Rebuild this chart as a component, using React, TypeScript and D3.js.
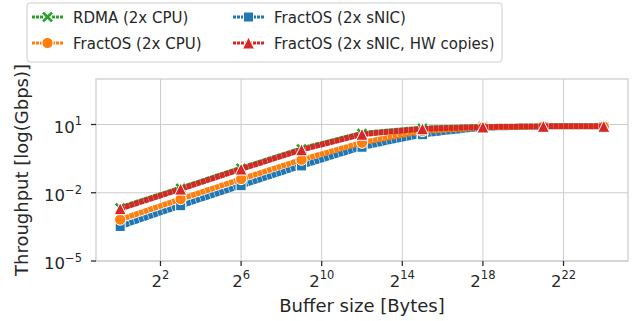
import React from "react";
import * as d3 from "d3";

// buffer sizes in bytes (2^0 .. 2^24)
const sizes = [1, 8, 64, 512, 4096, 32768, 262144, 2097152, 16777216];

// throughput in Gbps
const rdmaCpu = [0.00214, 0.0155, 0.117, 0.83, 3.98, 6.76, 7.94, 8.51, 8.51];
const fractosSnic = [0.00033, 0.00269, 0.0204, 0.151, 1.0, 3.55, 7.08, 8.13, 8.13];
const fractosCpu = [0.00066, 0.00525, 0.0398, 0.282, 1.58, 5.13, 7.41, 8.13, 8.13];
const fractosSnicHw = [0.002, 0.0145, 0.11, 0.776, 3.72, 6.46, 7.76, 8.32, 8.32];

const xTickExps = [2, 6, 10, 14, 18, 22];
const yTickExps = [-5, -2, 1];

const series = [
  { name: "RDMA (2x CPU)", values: rdmaCpu, color: "#2ca02c", marker: "x" },
  { name: "FractOS (2x sNIC)", values: fractosSnic, color: "#1f77b4", marker: "s" },
  { name: "FractOS (2x CPU)", values: fractosCpu, color: "#ff7f0e", marker: "o" },
  { name: "FractOS (2x sNIC, HW copies)", values: fractosSnicHw, color: "#d62728", marker: "^" },
];

const legendOrder = [0, 2, 1, 3];

const W = 633, H = 321;
const margin = { left: 96, right: 5, top: 79, bottom: 60 };
const font = "DejaVu Sans, sans-serif";
const ink = "#262626";
const grid = "#cccccc";

function Marker({ kind, x, y, color }: { kind: string; x: number; y: number; color: string }) {
  const stroke = "#ffffff";
  if (kind === "o") return <circle cx={x} cy={y} r={5.6} fill={color} stroke={stroke} strokeWidth={1} />;
  if (kind === "s") return <rect x={x - 5} y={y - 5} width={10} height={10} fill={color} stroke={stroke} strokeWidth={1} />;
  if (kind === "^") {
    const s = 6;
    return <path d={`M${x},${y - s}L${x + s},${y + s}L${x - s},${y + s}Z`} fill={color} stroke={stroke} strokeWidth={1} />;
  }
  // filled X
  const a = 5.8, t = 2.3;
  const pts = [
    [0, -t], [a - t, -a], [a, -a + t], [t, 0], [a, a - t], [a - t, a],
    [0, t], [-a + t, a], [-a, a - t], [-t, 0], [-a, -a + t], [-a + t, -a],
  ];
  return <path d={"M" + pts.map(p => `${x + p[0]},${y + p[1]}`).join("L") + "Z"} fill={color} stroke={stroke} strokeWidth={1} />;
}

export default function App() {
  const x = d3.scaleLog().base(2).domain([Math.pow(2, -1.2), Math.pow(2, 25.2)]).range([margin.left, W - margin.right]);
  const y = d3.scaleLog().domain([1e-5, 1e3]).range([H - margin.bottom, margin.top]);
  const line = d3.line<number>().x((_, i) => x(sizes[i])).y(d => y(d));

  const x0 = margin.left, x1 = W - margin.right, y0 = margin.top, y1 = H - margin.bottom;

  return (
    <svg width={W} height={H} style={{ position: "absolute", left: 0, top: 0, fontFamily: font }}>
      <rect width={W} height={H} fill="#ffffff" />
      {/* grid */}
      {xTickExps.map(e => (
        <line key={"gx" + e} x1={x(Math.pow(2, e))} x2={x(Math.pow(2, e))} y1={y0} y2={y1} stroke={grid} strokeWidth={1} />
      ))}
      {yTickExps.map(e => (
        <line key={"gy" + e} x1={x0} x2={x1} y1={y(Math.pow(10, e))} y2={y(Math.pow(10, e))} stroke={grid} strokeWidth={1} />
      ))}
      <rect x={x0} y={y0} width={x1 - x0} height={y1 - y0} fill="none" stroke={grid} strokeWidth={1.25} />

      {/* ticks */}
      {xTickExps.map(e => {
        const px = x(Math.pow(2, e));
        return (
          <g key={"tx" + e}>
            <line x1={px} x2={px} y1={y1} y2={y1 + 5} stroke={ink} strokeWidth={1.25} />
            <text x={px} y={286.5} textAnchor="middle" fontSize={16.5} fill={ink}>
              2<tspan fontSize={11.5} dy={-7.5}>{e}</tspan>
            </text>
          </g>
        );
      })}
      {yTickExps.map(e => {
        const py = y(Math.pow(10, e));
        return (
          <g key={"ty" + e}>
            <line x1={x0 - 5} x2={x0} y1={py} y2={py} stroke={ink} strokeWidth={1.25} />
            <text x={82} y={py + 8.3} textAnchor="end" fontSize={16.5} fill={ink}>
              10<tspan fontSize={11.5} dy={-7.5}>{e < 0 ? "\u2212" + -e : e}</tspan>
            </text>
          </g>
        );
      })}

      {/* series */}
      {series.map(s => (
        <g key={s.name}>
          <path d={line(s.values) || ""} fill="none" stroke={s.color} strokeWidth={5.5} strokeDasharray="4.5 0.5" />
          {s.values.map((v, i) => (
            <Marker key={i} kind={s.marker} x={x(sizes[i])} y={y(v)} color={s.color} />
          ))}
        </g>
      ))}

      {/* axis labels */}
      <text x={362} y={312} textAnchor="middle" fontSize={18} fill={ink}>Buffer size [Bytes]</text>
      <text transform={`translate(28,${(y0 + y1) / 2}) rotate(-90)`} textAnchor="middle" fontSize={18} fill={ink}>
        Throughput [log(Gbps)]
      </text>

      {/* legend */}
      <rect x={27} y={3} width={475} height={59} rx={3} fill="#ffffff" fillOpacity={0.8} stroke={grid} strokeWidth={1} />
      {legendOrder.map((si, k) => {
        const s = series[si];
        const col = Math.floor(k / 2), row = k % 2;
        const lx = col === 0 ? 32 : 233;
        const ly = row === 0 ? 17 : 43;
        return (
          <g key={"lg" + si}>
            <line x1={lx} x2={lx + 31} y1={ly} y2={ly} stroke={s.color} strokeWidth={3} strokeDasharray="3 1" />
            <Marker kind={s.marker} x={lx + 15.5} y={ly} color={s.color} />
            <text x={lx + 41} y={ly + 5.5} fontSize={15} fill={ink}>{s.name}</text>
          </g>
        );
      })}
    </svg>
  );
}
